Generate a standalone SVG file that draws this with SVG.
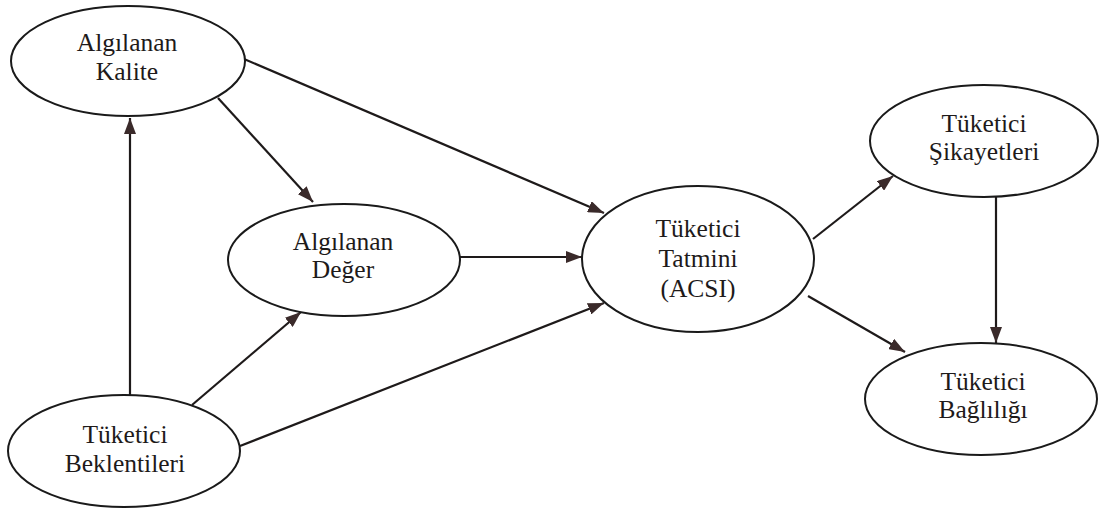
<svg xmlns="http://www.w3.org/2000/svg" width="1101" height="512" viewBox="0 0 1101 512">
<style>
.n{fill:#fff;stroke:#1a1a1a;stroke-width:2}
.t{font-family:"Liberation Serif","Times New Roman",serif;font-size:25.5px;fill:#1e1a1a;text-anchor:middle}
.c{stroke:#1e1a1a;stroke-width:2.2;fill:none;marker-end:url(#ah)}
</style>
<defs>
<marker id="ah" viewBox="0 0 16 12" refX="16" refY="6" markerWidth="16" markerHeight="12" markerUnits="userSpaceOnUse" orient="auto">
<path d="M0,0 L16,6 L0,12 z" fill="#3a2a2a"/>
</marker>
</defs>
<rect width="1101" height="512" fill="#fff"/>
<g id="connectors">
<line class="c" x1="218" y1="98" x2="313" y2="202"/>
<line class="c" x1="244" y1="59" x2="604" y2="213"/>
<line class="c" x1="460" y1="257" x2="582" y2="257"/>
<line class="c" x1="130" y1="395" x2="130" y2="118"/>
<line class="c" x1="192" y1="405" x2="301" y2="312"/>
<line class="c" x1="240" y1="446" x2="604" y2="303"/>
<line class="c" x1="813" y1="239" x2="893" y2="176"/>
<line class="c" x1="808" y1="296" x2="905" y2="352"/>
<line class="c" x1="996" y1="197" x2="996" y2="343"/>
</g>
<g id="algilanan-kalite">
<ellipse class="n" cx="128" cy="61" rx="117" ry="55"/>
<text class="t" x="127" y="51">Algılanan</text>
<text class="t" x="127" y="80">Kalite</text>
</g>
<g id="algilanan-deger">
<ellipse class="n" cx="344" cy="260" rx="116" ry="56"/>
<text class="t" x="343" y="250">Algılanan</text>
<text class="t" x="343" y="278">Değer</text>
</g>
<g id="tuketici-beklentileri">
<ellipse class="n" cx="124" cy="451" rx="116" ry="56"/>
<text class="t" x="125" y="443">Tüketici</text>
<text class="t" x="125" y="472">Beklentileri</text>
</g>
<g id="tuketici-tatmini">
<ellipse class="n" cx="698" cy="259" rx="116" ry="73"/>
<text class="t" x="698" y="237">Tüketici</text>
<text class="t" x="698" y="267">Tatmini</text>
<text class="t" x="698" y="297">(ACSI)</text>
</g>
<g id="tuketici-sikayetleri">
<ellipse class="n" cx="984" cy="141" rx="114" ry="56"/>
<text class="t" x="984" y="132">Tüketici</text>
<text class="t" x="984" y="160">Şikayetleri</text>
</g>
<g id="tuketici-bagliligi">
<ellipse class="n" cx="981" cy="399" rx="116" ry="56"/>
<text class="t" x="983" y="390">Tüketici</text>
<text class="t" x="983" y="418">Bağlılığı</text>
</g>
</svg>
